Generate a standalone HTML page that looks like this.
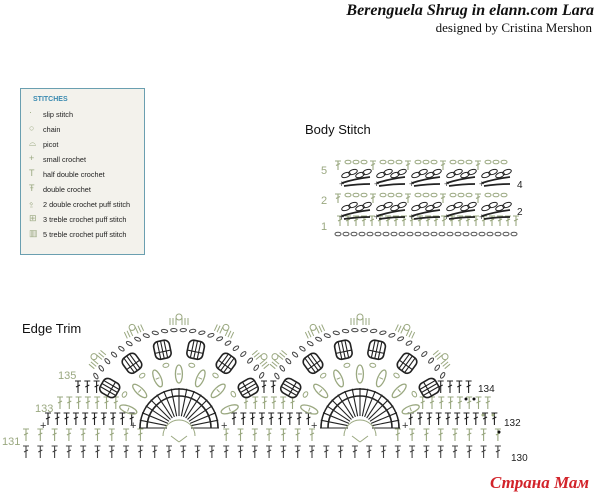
<!DOCTYPE html>
<html><head><meta charset="utf-8"><style>
body{margin:0;width:600px;height:499px;background:#fff;overflow:hidden;position:relative;font-family:"Liberation Sans",sans-serif}
.t1{position:absolute;right:6px;top:2px;font:bold italic 16px "Liberation Serif",serif;color:#111;white-space:nowrap}
.t2{position:absolute;right:8px;top:20px;font:13px "Liberation Serif",serif;color:#111;white-space:nowrap}
.leg{position:absolute;left:20px;top:88px;width:123px;height:165px;border:1.5px solid #6a9fb0;background:#f3f2ec}
.leg div{position:absolute;left:22px;font-size:7.3px;color:#222;white-space:nowrap}
.leg b{position:absolute;left:12px;top:7px;font-size:7px;color:#3a8ab0}
.leg i{position:absolute;left:8px;font-style:normal;font-size:9px;color:#9aa880}
#w{position:absolute;left:0;top:0;width:600px;height:499px}
</style></head><body>
<div class="t1">Berenguela Shrug in elann.com Lara</div>
<div class="t2">designed by Cristina Mershon</div>
<div class="leg"><b>STITCHES</b>
<i style="top:18px">·</i><div style="top:21px">slip stitch</div>
<i style="top:34px">○</i><div style="top:36px">chain</div>
<i style="top:49px">⌓</i><div style="top:51px">picot</div>
<i style="top:64px">+</i><div style="top:66px">small crochet</div>
<i style="top:79px">T</i><div style="top:81px">half double crochet</div>
<i style="top:94px">Ŧ</i><div style="top:96px">double crochet</div>
<i style="top:109px">⍚</i><div style="top:111px">2 double crochet puff stitch</div>
<i style="top:124px">⊞</i><div style="top:126px">3 treble crochet puff stitch</div>
<i style="top:139px">▥</i><div style="top:141px">5 treble crochet puff stitch</div>
</div>
<div id="w"></div>
<script>
(function(){
var h='';
var GR='#9aa880',BK='#222';
function T(x,y,c,hh){hh=hh||12;h+='<path d="M'+(x-3)+' '+(y-hh)+'h6M'+x+' '+(y-hh)+'v'+hh+'M'+(x-2)+' '+(y-hh/2)+'l4 -2" stroke="'+c+'" stroke-width="1.1" fill="none"/>';}
function E(x,y,c,rx,ry,a){h+='<ellipse cx="'+x+'" cy="'+y+'" rx="'+(rx||3)+'" ry="'+(ry||1.8)+'" transform="rotate('+(a||0)+' '+x+' '+y+')" stroke="'+c+'" stroke-width="1" fill="none"/>';}
try{
for(var i=0;i<23;i++){E(338+i*8,234,'#555');T(340+i*8,226,GR,10);}
[163,196].forEach(function(y){for(var k=0;k<5;k++){var x=338+k*35;T(x,y+7,GR,9);for(var j=0;j<3;j++)E(x+10+j*8,y-1,GR,3,1.8);
 for(var j=0;j<4;j++)E(x+8+j*7,y+12-(j%2)*3,BK,4.5,2.3,-20);h+='<path d="M'+(x+4)+' '+(y+20)+'q12 -4 28 -6M'+(x+6)+' '+(y+23)+'q14 -2 26 -2" stroke="'+BK+'" stroke-width="1.8" fill="none"/>';
 h+='<text x="'+(x+1)+'" y="'+(y+24)+'" font-size="9" fill="#333">+</text>';}});
}catch(e){}
try{
for(var i=0;i<34;i++){T(26+i*14.3,458,'#444',12);}
for(var i=0;i<34;i++){var x=26+i*14.3;if(Math.abs(x-179)>36&&Math.abs(x-360)>36&&x<505)T(x,441,GR,12);}
function row(y,c,x0,x1,step,skip){for(var x=x0;x<=x1;x+=step){var d=Math.min(Math.abs(x-179),Math.abs(x-360));if(d>skip)T(x,y,c,12);}}
row(425,BK,48,495,9.3,46);row(409,GR,60,490,9.3,62);row(393,BK,78,470,9.3,80);
h+='<text x="40" y="429" font-size="11" fill="#333">+</text><text x="130" y="429" font-size="11" fill="#333">+</text><text x="221" y="429" font-size="11" fill="#333">+</text><text x="311" y="429" font-size="11" fill="#333">+</text><text x="402" y="429" font-size="11" fill="#333">+</text>';
}catch(e){}
function P(a,r,cx,cy){var t=a*Math.PI/180;return [cx-Math.cos(t)*r,cy-Math.sin(t)*r];}
function fan(cx,cy){
 for(var a=0;a<=180;a+=11.25){var p=P(a,12,cx,cy),q=P(a,40,cx,cy);
  h+='<path d="M'+p[0]+' '+p[1]+'L'+q[0]+' '+q[1]+'" stroke="'+BK+'" stroke-width="1.1" fill="none"/>';}
 h+='<path d="M'+(cx-32)+' '+cy+'A32 32 0 0 1 '+(cx+32)+' '+cy+'M'+(cx-39)+' '+cy+'A39 39 0 0 1 '+(cx+39)+' '+cy+'" stroke="'+BK+'" stroke-width="1.6" fill="none"/>';
 h+='<path d="M'+(cx-16)+' '+(cy+8)+'A16 16 0 0 1 '+(cx+16)+' '+(cy+8)+'M'+cx+' '+(cy+14)+'l-8 -6M'+cx+' '+(cy+14)+'l8 -6" stroke="'+GR+'" stroke-width="1" fill="none"/>';
 for(var k=0;k<7;k++){var a=20+k*23.3,p=P(a,54,cx,cy);
  h+='<ellipse cx="'+p[0]+'" cy="'+p[1]+'" rx="3.5" ry="9" transform="rotate('+(a-90)+' '+p[0]+' '+p[1]+')" stroke="'+GR+'" stroke-width="1.3" fill="none"/><path d="M'+(p[0]-2)+' '+p[1]+'h4" transform="rotate('+(a-90)+' '+p[0]+' '+p[1]+')" stroke="'+GR+'"/>';}
 for(var k=0;k<6;k++){var a=31.6+k*23.3,p=P(a,64,cx,cy);E(p[0],p[1],GR,3,2,a-90);}
 for(var k=0;k<6;k++){var a=30+k*24,p=P(a,80,cx,cy),x=p[0],y=p[1];
  h+='<g transform="rotate('+(a-90)+' '+x+' '+y+')"><rect x="'+(x-8)+'" y="'+(y-9)+'" width="16" height="18" rx="5" stroke="'+BK+'" stroke-width="1.6" fill="none"/><path d="M'+(x-3.5)+' '+(y-9)+'v18M'+x+' '+(y-9)+'v18M'+(x+3.5)+' '+(y-9)+'v18M'+(x-8)+' '+(y+2)+'h16" stroke="'+BK+'" stroke-width="1.1"/></g>';}
 for(var a=32;a<=148;a+=5.5){var p=P(a,98,cx,cy);E(p[0],p[1],'#444',3.2,1.6,90-a);}
 for(var k=0;k<5;k++){var a=40+k*25,p=P(a,108,cx,cy),x=p[0],y=p[1];
  h+='<g transform="rotate('+(a-90)+' '+x+' '+y+')" stroke="'+GR+'" stroke-width="1" fill="none"><path d="M'+(x-9)+' '+(y+5)+'v-7M'+(x-6)+' '+(y+5)+'v-7M'+(x-3)+' '+(y+5)+'v-7M'+(x+3)+' '+(y+5)+'v-7M'+(x+6)+' '+(y+5)+'v-7M'+(x+9)+' '+(y+5)+'v-7"/><circle cx="'+x+'" cy="'+(y-3)+'" r="3"/></g>';}
}
try{fan(179,428);fan(360,428);}catch(e){}
h+='<circle cx="466" cy="399" r="1.5" fill="#111"/><circle cx="474" cy="399" r="1.5" fill="#111"/><circle cx="483" cy="415" r="1.5" fill="'+GR+'"/><circle cx="493" cy="415" r="1.5" fill="'+GR+'"/><circle cx="499" cy="432" r="1.5" fill="#111"/>';
var s='<svg xmlns="http://www.w3.org/2000/svg" width="600" height="499" font-family="Liberation Sans, sans-serif">'
+'<text x="305" y="134" font-size="13" fill="#111">Body Stitch</text>'
+'<text x="22" y="333" font-size="13" fill="#111">Edge Trim</text>'
+'<g font-size="11" fill="#9aa880"><text x="321" y="174">5</text><text x="321" y="204">2</text><text x="321" y="230">1</text>'
+'<text x="58" y="379">135</text><text x="35" y="412">133</text><text x="2" y="445">131</text></g>'
+'<g font-size="10" fill="#222"><text x="517" y="188">4</text><text x="517" y="215">2</text>'
+'<text x="478" y="392">134</text><text x="504" y="426">132</text><text x="511" y="461">130</text></g>'
+'<text x="490" y="488" font-size="17" font-family="Liberation Serif,serif" font-style="italic" font-weight="bold" fill="#d2232a">Страна Мам</text>'
+h+'</svg>';
document.getElementById('w').innerHTML=s;
})();
</script>
</body></html>
